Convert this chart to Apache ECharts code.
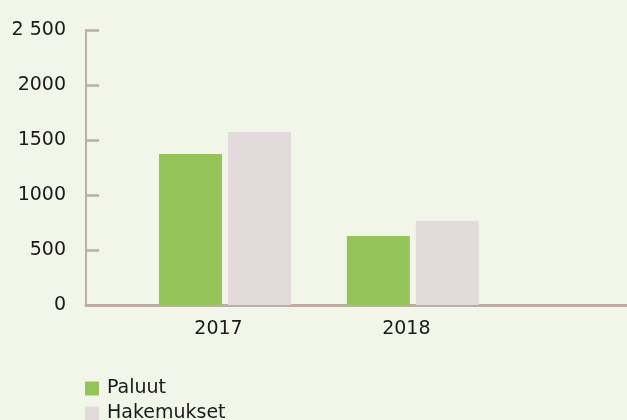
<!DOCTYPE html>
<html>
<head>
<meta charset="utf-8">
<script src="https://cdn.jsdelivr.net/npm/echarts@6/dist/echarts.min.js"></script>
<style>
  html, body { margin: 0; padding: 0; background: #f1f6e9; }
  #chart { width: 627px; height: 420px; }
</style>
</head>
<body>
<div id="chart"></div>
<script>
const years = [2017, 2018];
const paluut = [1373, 627];
const hakemukset = [1573, 764];
const yTickLabels = { 0: '0', 500: '500', 1000: '1000', 1500: '1500', 2000: '2000', 2500: '2 500' };

const FONT = 'DejaVu Sans, Verdana, sans-serif';
const AXIS = '#baaea7';

const chart = echarts.init(document.getElementById('chart'), null, { renderer: 'canvas' });
chart.setOption({
  backgroundColor: '#f1f6e9',
  animation: false,
  grid: { left: 86, top: 30, right: 0, height: 275, containLabel: false },
  xAxis: {
    type: 'value',
    // year axis runs a little past the last group, out to the right edge
    min: 2016.26, max: 2019.14,
    axisLine: { show: true, onZero: false, lineStyle: { color: AXIS, width: 3 } },
    axisTick: { show: false },
    axisLabel: {
      color: '#1a1a1a', fontFamily: FONT, fontSize: 19, margin: 15,
      padding: [0, 13, 0, 0],
      customValues: years,
      formatter: v => String(v)
    },
    splitLine: { show: false }
  },
  yAxis: {
    type: 'value',
    min: 0, max: 2500, interval: 500,
    axisLine: { show: true, lineStyle: { color: AXIS, width: 2 } },
    axisTick: { show: true, inside: true, length: 13, lineStyle: { color: AXIS, width: 2.5 } },
    axisLabel: {
      color: '#1a1a1a', fontFamily: FONT, fontSize: 19, margin: 20,
      formatter: v => yTickLabels[v]
    },
    splitLine: { show: false }
  },
  legend: {
    orient: 'vertical',
    left: 85, top: 379, height: 70,
    padding: 0,
    icon: 'rect',
    itemWidth: 14, itemHeight: 14,
    itemGap: 6,
    textStyle: { color: '#1a1a1a', fontFamily: FONT, fontSize: 19, padding: [0, 0, 0, 3] },
    data: ['Paluut', 'Hakemukset']
  },
  series: [
    {
      name: 'Paluut', type: 'bar',
      data: years.map((y, i) => [y, paluut[i]]),
      barWidth: 63, barGap: '9.5%',
      itemStyle: { color: '#95c459' }
    },
    {
      name: 'Hakemukset', type: 'bar',
      data: years.map((y, i) => [y, hakemukset[i]]),
      barWidth: 63,
      itemStyle: { color: '#e3dbdb' }
    }
  ]
});
</script>
</body>
</html>
